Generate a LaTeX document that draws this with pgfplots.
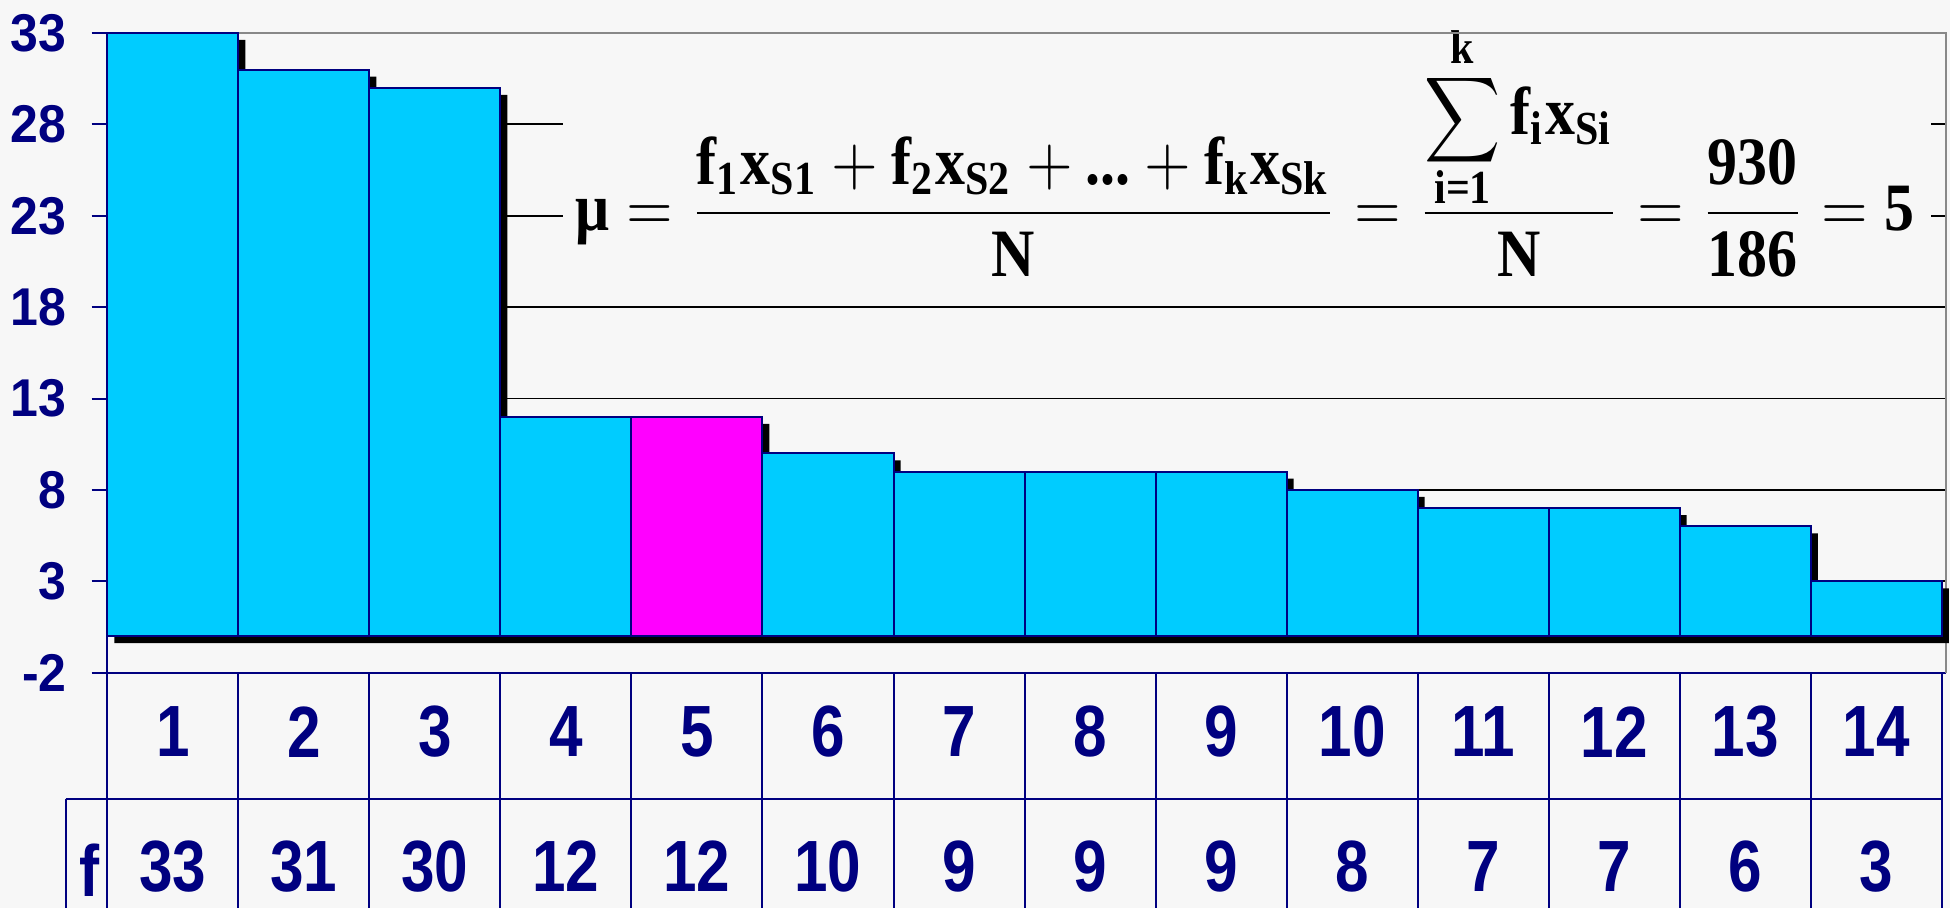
\documentclass[border=0pt]{standalone}
\usepackage{amsmath}
\usepackage{graphicx}
\usepackage{fontspec}
\usepackage{pgfplots}
\usepackage{pgfplotstable}
\pgfplotsset{compat=1.18}
\setmainfont{Liberation Sans}
\newfontfamily\tickfont{Liberation Sans}[FakeStretch=0.94]
\newfontfamily\cellfont{Liberation Sans}[FakeStretch=0.83]
\newfontfamily\formfont{Liberation Serif}

\definecolor{navyblue}{HTML}{000080}
\definecolor{barcyan}{HTML}{00CCFF}
\definecolor{barpink}{HTML}{FF00FF}
\definecolor{paper}{HTML}{F7F7F7}
\definecolor{frame}{HTML}{888888}

\newcommand{\T}[1]{\text{\formfont\bfseries #1}}
\newcommand{\lbl}[1]{\mbox{\tickfont\bfseries\fontsize{13.3}{13.3}\selectfont #1}}
\newcommand{\limtxt}[1]{\hbox{\formfont\bfseries\fontsize{7}{7}\selectfont #1}}
% summation sign with its limits stacked tightly above and below
\newcommand{\sumblock}{\mathop{\vcenter{\offinterlineskip\halign{\hfil##\hfil\cr
  \limtxt{k}\cr\noalign{\kern1.3pt}
  \scalebox{0.88}{$\displaystyle\sum$}\cr\noalign{\kern0.4pt}
  \limtxt{i=1}\cr}}}}

\tikzset{cell/.style={font=\cellfont\bfseries\fontsize{18.15}{18.15}\selectfont,
    text=navyblue, inner sep=0pt, anchor=center}}

% frequency of each class
\pgfplotstableread{
x f
1 33
2 31
3 30
4 12
5 12
6 10
7 9
8 9
9 9
10 8
11 7
12 7
13 6
14 3
}\freq

% classes drawn in cyan
\pgfplotstableread{
x f
1 33
2 31
3 30
4 12
6 10
7 9
8 9
9 9
10 8
11 7
12 7
13 6
14 3
}\others

% the highlighted class
\pgfplotstableread{
x f
5 12
}\highlight

\begin{document}
\begin{tikzpicture}
\fill[paper] (-26.825pt,-58.825pt) rectangle (460.675pt,168.175pt);
\path[use as bounding box] (-26.825pt,-58.825pt) rectangle (460.675pt,168.175pt);
\begin{axis}[
  at={(0pt,0pt)}, anchor=south west,
  scale only axis, width=459.6pt, height=159.925pt,
  xmin=0.5, xmax=14.53, ymin=-2, ymax=33,
  clip=false,
  axis x line*=bottom, axis y line*=left,
  x axis line style={-, navyblue, line width=0.5pt},
  y axis line style={-, navyblue, line width=0.5pt},
  xtick=\empty,
  ytick={-2,3,8,13,18,23,28,33},
  yticklabels={\lbl{-2},\lbl{3},\lbl{8},\lbl{13},\lbl{18},\lbl{23},\lbl{28},\lbl{33}},
  ytick pos=left, tick align=outside, major tick length=3.9pt,
  y tick style={navyblue, line width=0.5pt},
  yticklabel style={text=navyblue, anchor=east, inner sep=0pt, xshift=-6.1pt},
  ymajorgrids, grid style={black, line width=0.45pt},
]
% panel behind the formula
\fill[paper] (axis cs:3.978,19) rectangle (axis cs:14.42,31.5);
\node[anchor=base west, inner sep=0pt] at (axis cs:4.069,22.22) {\scalebox{1}[1.13]{\resizebox{334.75pt}{!}{$\displaystyle
  \T{μ} = \dfrac{\T{f}_{\T{1}}\T{x}_{\T{S1}} + \T{f}_{\T{2}}\T{x}_{\T{S2}} + \T{...} + \T{f}_{\T{k}}\T{x}_{\T{Sk}}}{\T{N}}
  = \dfrac{\sumblock \T{f}_{\T{i}}\T{x}_{\T{Si}}}{\T{N}}
  = \dfrac{\T{930}}{\T{186}} = \T{5}$}}};

% plot frame, top and right
\draw[frame, line width=0.5pt] (rel axis cs:0,1) -- (rel axis cs:1,1) -- (rel axis cs:1,0);

% drop shadow of the bars
\addplot[ybar, bar width=1, bar shift=0pt, fill=black, draw=none,
  transform canvas={shift={(1.75pt,-1.75pt)}}] table[x=x, y=f] {\freq};
% bars
\addplot[ybar, bar width=1, bar shift=0pt, fill=barcyan, draw=navyblue, line width=0.5pt]
  table[x=x, y=f] {\others};
\addplot[ybar, bar width=1, bar shift=0pt, fill=barpink, draw=navyblue, line width=0.5pt]
  table[x=x, y=f] {\highlight};

% table under the chart
\draw[navyblue, line width=0.5pt] (axis cs:0.1825,-8.91) -- (axis cs:14.5,-8.91);
\draw[navyblue, line width=0.5pt] (axis cs:0.1825,-8.91) -- (axis cs:0.1825,-16);
\pgfplotsinvokeforeach{0.5,1.5,2.5,3.5,4.5,5.5,6.5,7.5,8.5,9.5,10.5,11.5,12.5,13.5,14.5}{
  \draw[navyblue, line width=0.5pt] (axis cs:#1,-2) -- (axis cs:#1,-16);
}
\pgfplotsinvokeforeach{1,...,14}{
  \node[cell] at (axis cs:#1,-5.23) {#1};
}
\node[cell] at (axis cs:0.368,-12.79) {f};
\pgfplotsinvokeforeach{0,...,13}{
  \pgfplotstablegetelem{#1}{f}\of\freq
  \edef\celltmp{\noexpand\node[cell] at (axis cs:\the\numexpr#1+1\relax,-12.58) {\pgfplotsretval};}
  \celltmp
}
\end{axis}
\end{tikzpicture}
\end{document}
